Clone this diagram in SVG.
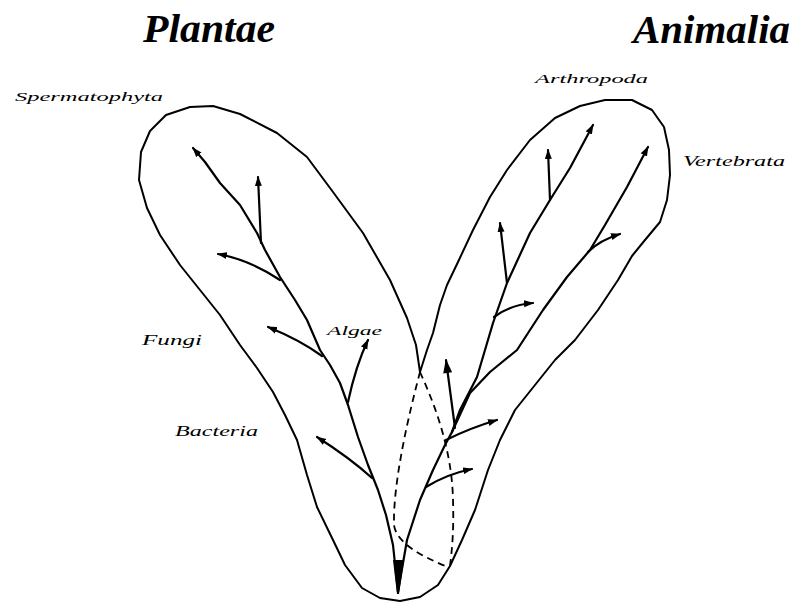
<svg xmlns="http://www.w3.org/2000/svg" width="799" height="612" viewBox="0 0 799 612">
<style>
.title{font-family:"Liberation Serif","Times New Roman",serif;font-style:italic;font-weight:bold;font-size:40px;fill:#000}
.lbl{font-family:"Liberation Serif","Times New Roman",serif;font-style:italic;fill:#000}
.outline{fill:none;stroke:#000;stroke-width:2;stroke-linejoin:round;stroke-linecap:round}
.hidden{fill:none;stroke:#000;stroke-width:1.8;stroke-dasharray:7 5}
.branch{fill:none;stroke:#000;stroke-width:2.2;stroke-linejoin:round;stroke-linecap:round}
.arr{marker-end:url(#ah)}
.arrbig{marker-end:url(#ahb)}
</style>
<defs>
<marker id="ah" viewBox="0 0 10 8" refX="9" refY="4" markerWidth="10" markerHeight="8" markerUnits="userSpaceOnUse" orient="auto">
<path d="M0,0.5 L10,4 L0,7.5 z" fill="#000"/>
</marker>
<marker id="ahb" viewBox="0 0 14 9" refX="13" refY="4.5" markerWidth="15" markerHeight="9" markerUnits="userSpaceOnUse" orient="auto">
<path d="M0,0 L14,4.5 L0,9 z" fill="#000"/>
</marker>
</defs>
<rect width="799" height="612" fill="#fff"/>

<g id="outline">
<path class="outline" d="M420,372 L427,350 L433,333 L440,305 L447,285 L458,262 L473,230 L490,197 L507,170 L530,140 L555,118 L580,106 L605,100 L632,100 L652,110 L664,127 L669,150 L670,175 L667,200 L660,222 L645,240 L632,256 L618,280 L598,310 L575,340 L555,360 L535,385 L515,410 L500,440 L488,470 L475,510 L462,540 L450,566 L438,585 L420,597 L400,601 L380,598 L362,588 L345,565 L333,540 L317,507 L307,475 L297,440 L285,415 L273,392 L257,368 L240,345 L220,315 L200,290 L180,265 L160,235 L147,208 L139,180 L141,152 L150,131 L166,115 L190,107 L213,106 L240,114 L277,133 L307,157 L333,192 L363,233 L390,280 L407,318 L416,345 Z"/>
<path class="hidden" d="M420,372 C410,410 393,480 394,525 C396,542 420,556 448,567"/>
<path class="hidden" d="M420,372 C435,405 452,450 453,500 C454,530 452,550 450,566"/>
</g>

<g id="connectors">
<path d="M393,560 L404,560 L399,594 L397,594 Z" fill="#000"/>
<path class="branch arr" d="M398,592 L393,545 L386,515 L378,490 L368,465 L358,437 L348,405 L340,383 L330,365 L320,350 L307,320 L295,300 L280,277 L265,250 L257,233 L240,205 L220,183 L205,162 L193,148"/>
<path class="branch arr" d="M261,243 L258,177"/>
<path class="branch arr" d="M280,280 Q250,260 218,254"/>
<path class="branch arr" d="M322,356 Q300,340 268,327"/>
<path class="branch arr" d="M348,402 Q356,365 368,340"/>
<path class="branch arr" d="M372,478 Q350,458 317,437"/>

<path class="branch" d="M398,592 L407,540 L420,500 L433,470 L445,445 L452,432"/>
<path class="branch arr" d="M452,432 L470,393 L490,372 L517,350 L543,310 L567,277 L590,250 L605,225 L627,187 L648,147"/>
<path class="branch arr" d="M452,432 L460,410 L477,377 L493,323 L507,283 L530,233 L550,200 L570,168 L593,125"/>
<path class="branch arrbig" d="M455,428 L446,360"/>
<path class="branch arr" d="M446,440 Q470,428 497,420"/>
<path class="branch arr" d="M426,487 Q447,474 472,469"/>
<path class="branch arr" d="M494,317 Q510,305 533,303"/>
<path class="branch arr" d="M507,283 L500,223"/>
<path class="branch arr" d="M550,200 L548,150"/>
<path class="branch arr" d="M588,252 Q600,240 620,234"/>
</g>

<g id="plantae"><text class="title" x="143" y="42" textLength="132" lengthAdjust="spacingAndGlyphs">Plantae</text></g>
<g id="animalia"><text class="title" x="633" y="43" textLength="157" lengthAdjust="spacingAndGlyphs">Animalia</text></g>
<g id="spermatophyta"><text class="lbl" x="15" y="101" font-size="13" textLength="148" lengthAdjust="spacingAndGlyphs">Spermatophyta</text></g>
<g id="arthropoda"><text class="lbl" x="535" y="83" font-size="12" textLength="113" lengthAdjust="spacingAndGlyphs">Arthropoda</text></g>
<g id="vertebrata"><text class="lbl" x="683" y="166" font-size="15" textLength="102" lengthAdjust="spacingAndGlyphs">Vertebrata</text></g>
<g id="fungi"><text class="lbl" x="142" y="345" font-size="15" textLength="60" lengthAdjust="spacingAndGlyphs">Fungi</text></g>
<g id="algae"><text class="lbl" x="327" y="335" font-size="12" textLength="55" lengthAdjust="spacingAndGlyphs">Algae</text></g>
<g id="bacteria"><text class="lbl" x="175" y="436" font-size="14" textLength="83" lengthAdjust="spacingAndGlyphs">Bacteria</text></g>
</svg>
